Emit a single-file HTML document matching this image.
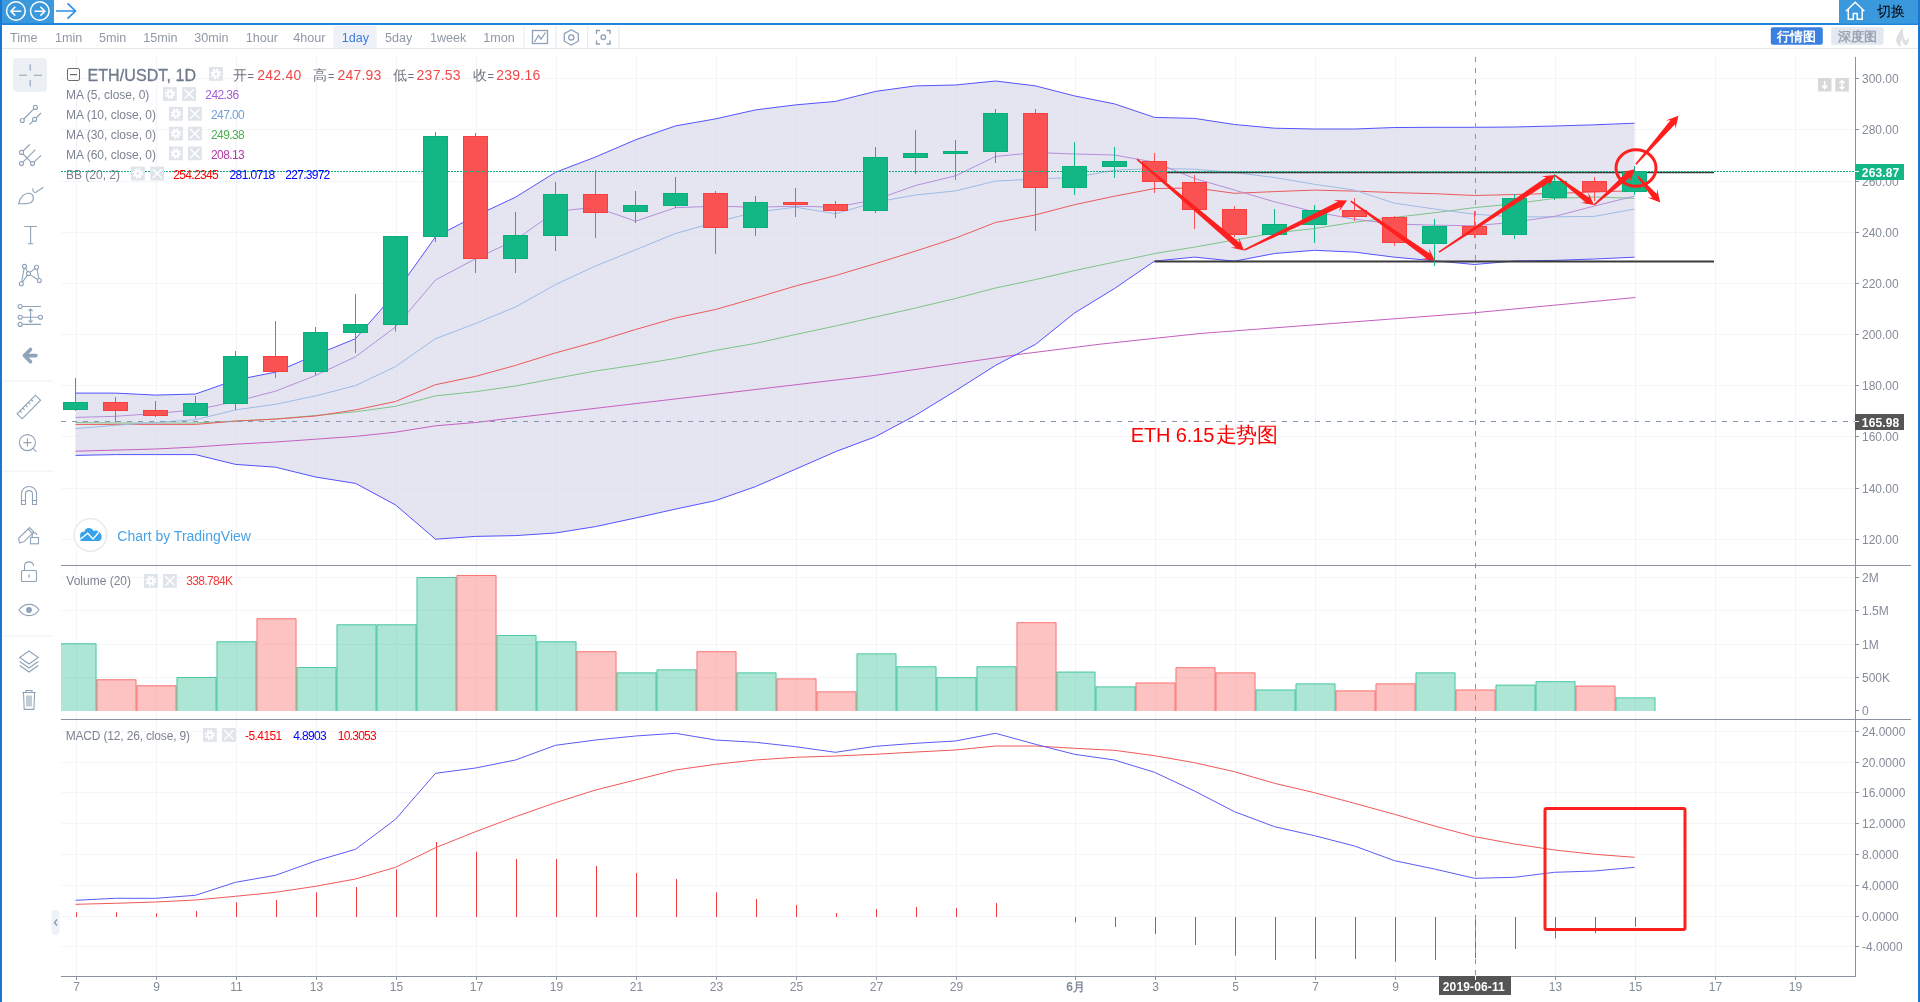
<!DOCTYPE html>
<html><head><meta charset="utf-8"><style>
html,body{margin:0;padding:0;width:1920px;height:1002px;overflow:hidden;background:#fff;font-family:"Liberation Sans",sans-serif;}
svg text{font-family:"Liberation Sans",sans-serif;}
.abs{position:absolute}
</style></head><body>
<svg class="abs" style="left:0;top:0;will-change:transform" width="1920" height="1002" viewBox="0 0 1920 1002">
<rect width="1920" height="1002" fill="#fff"/>
<g id="chart">
<line x1="76.5" y1="57" x2="76.5" y2="976" stroke="#f4f5f8" stroke-width="1"/>
<line x1="156.5" y1="57" x2="156.5" y2="976" stroke="#f4f5f8" stroke-width="1"/>
<line x1="236.5" y1="57" x2="236.5" y2="976" stroke="#f4f5f8" stroke-width="1"/>
<line x1="316.5" y1="57" x2="316.5" y2="976" stroke="#f4f5f8" stroke-width="1"/>
<line x1="396.5" y1="57" x2="396.5" y2="976" stroke="#f4f5f8" stroke-width="1"/>
<line x1="476.5" y1="57" x2="476.5" y2="976" stroke="#f4f5f8" stroke-width="1"/>
<line x1="556.5" y1="57" x2="556.5" y2="976" stroke="#f4f5f8" stroke-width="1"/>
<line x1="636.5" y1="57" x2="636.5" y2="976" stroke="#f4f5f8" stroke-width="1"/>
<line x1="716.5" y1="57" x2="716.5" y2="976" stroke="#f4f5f8" stroke-width="1"/>
<line x1="796.5" y1="57" x2="796.5" y2="976" stroke="#f4f5f8" stroke-width="1"/>
<line x1="876.5" y1="57" x2="876.5" y2="976" stroke="#f4f5f8" stroke-width="1"/>
<line x1="956.5" y1="57" x2="956.5" y2="976" stroke="#f4f5f8" stroke-width="1"/>
<line x1="1075.5" y1="57" x2="1075.5" y2="976" stroke="#f4f5f8" stroke-width="1"/>
<line x1="1155.5" y1="57" x2="1155.5" y2="976" stroke="#f4f5f8" stroke-width="1"/>
<line x1="1235.5" y1="57" x2="1235.5" y2="976" stroke="#f4f5f8" stroke-width="1"/>
<line x1="1315.5" y1="57" x2="1315.5" y2="976" stroke="#f4f5f8" stroke-width="1"/>
<line x1="1395.5" y1="57" x2="1395.5" y2="976" stroke="#f4f5f8" stroke-width="1"/>
<line x1="1475.5" y1="57" x2="1475.5" y2="976" stroke="#f4f5f8" stroke-width="1"/>
<line x1="1555.5" y1="57" x2="1555.5" y2="976" stroke="#f4f5f8" stroke-width="1"/>
<line x1="1635.5" y1="57" x2="1635.5" y2="976" stroke="#f4f5f8" stroke-width="1"/>
<line x1="1715.5" y1="57" x2="1715.5" y2="976" stroke="#f4f5f8" stroke-width="1"/>
<line x1="1795.5" y1="57" x2="1795.5" y2="976" stroke="#f4f5f8" stroke-width="1"/>
<line x1="61" y1="78.5" x2="1855" y2="78.5" stroke="#f4f5f8"/>
<line x1="61" y1="129.5" x2="1855" y2="129.5" stroke="#f4f5f8"/>
<line x1="61" y1="181.5" x2="1855" y2="181.5" stroke="#f4f5f8"/>
<line x1="61" y1="232.5" x2="1855" y2="232.5" stroke="#f4f5f8"/>
<line x1="61" y1="283.5" x2="1855" y2="283.5" stroke="#f4f5f8"/>
<line x1="61" y1="334.5" x2="1855" y2="334.5" stroke="#f4f5f8"/>
<line x1="61" y1="385.5" x2="1855" y2="385.5" stroke="#f4f5f8"/>
<line x1="61" y1="436.5" x2="1855" y2="436.5" stroke="#f4f5f8"/>
<line x1="61" y1="488.5" x2="1855" y2="488.5" stroke="#f4f5f8"/>
<line x1="61" y1="539.5" x2="1855" y2="539.5" stroke="#f4f5f8"/>
<line x1="61" y1="577.5" x2="1855" y2="577.5" stroke="#f4f5f8"/>
<line x1="61" y1="610.5" x2="1855" y2="610.5" stroke="#f4f5f8"/>
<line x1="61" y1="644.5" x2="1855" y2="644.5" stroke="#f4f5f8"/>
<line x1="61" y1="677.5" x2="1855" y2="677.5" stroke="#f4f5f8"/>
<line x1="61" y1="731.5" x2="1855" y2="731.5" stroke="#f4f5f8"/>
<line x1="61" y1="762.5" x2="1855" y2="762.5" stroke="#f4f5f8"/>
<line x1="61" y1="792.5" x2="1855" y2="792.5" stroke="#f4f5f8"/>
<line x1="61" y1="823.5" x2="1855" y2="823.5" stroke="#f4f5f8"/>
<line x1="61" y1="854.5" x2="1855" y2="854.5" stroke="#f4f5f8"/>
<line x1="61" y1="885.5" x2="1855" y2="885.5" stroke="#f4f5f8"/>
<line x1="61" y1="916.5" x2="1855" y2="916.5" stroke="#f4f5f8"/>
<line x1="61" y1="946.5" x2="1855" y2="946.5" stroke="#f4f5f8"/>
<defs><clipPath id="bbclip"><polygon points="75.5,393.1 115.5,393.1 155.5,395.1 195.5,394.0 235.5,380.0 275.5,372.2 315.5,355.0 355.5,338.7 395.5,293.0 435.5,236.8 475.5,216.0 515.5,197.2 555.5,172.3 595.5,157.0 635.5,139.8 675.5,125.9 715.5,118.9 755.5,109.9 795.5,104.9 835.5,101.4 875.5,91.4 915.5,85.9 955.5,85.0 995.5,81.0 1035.5,85.9 1074.5,95.9 1114.5,103.9 1154.5,117.4 1194.5,118.4 1234.5,124.5 1274.5,128.2 1314.5,129.0 1354.5,129.0 1394.5,127.5 1434.5,127.3 1474.5,127.3 1514.5,127.0 1554.5,126.0 1594.5,124.8 1634.5,123.2 1634.5,257.2 1594.5,259.0 1554.5,260.4 1514.5,261.0 1474.5,264.5 1434.5,260.8 1394.5,257.2 1354.5,252.1 1314.5,250.3 1274.5,253.5 1234.5,261.2 1194.5,257.1 1154.5,261.1 1114.5,288.5 1074.5,313.0 1035.5,344.4 995.5,365.4 955.5,390.8 915.5,415.3 875.5,436.7 835.5,451.7 795.5,469.2 755.5,486.6 715.5,500.6 675.5,509.1 635.5,518.0 595.5,526.6 555.5,533.0 515.5,535.6 475.5,536.4 435.5,539.2 395.5,504.9 355.5,483.4 315.5,477.0 275.5,467.2 235.5,464.4 195.5,454.6 155.5,454.6 115.5,454.6 75.5,455.4"/></clipPath></defs>
<polygon points="75.5,393.1 115.5,393.1 155.5,395.1 195.5,394.0 235.5,380.0 275.5,372.2 315.5,355.0 355.5,338.7 395.5,293.0 435.5,236.8 475.5,216.0 515.5,197.2 555.5,172.3 595.5,157.0 635.5,139.8 675.5,125.9 715.5,118.9 755.5,109.9 795.5,104.9 835.5,101.4 875.5,91.4 915.5,85.9 955.5,85.0 995.5,81.0 1035.5,85.9 1074.5,95.9 1114.5,103.9 1154.5,117.4 1194.5,118.4 1234.5,124.5 1274.5,128.2 1314.5,129.0 1354.5,129.0 1394.5,127.5 1434.5,127.3 1474.5,127.3 1514.5,127.0 1554.5,126.0 1594.5,124.8 1634.5,123.2 1634.5,257.2 1594.5,259.0 1554.5,260.4 1514.5,261.0 1474.5,264.5 1434.5,260.8 1394.5,257.2 1354.5,252.1 1314.5,250.3 1274.5,253.5 1234.5,261.2 1194.5,257.1 1154.5,261.1 1114.5,288.5 1074.5,313.0 1035.5,344.4 995.5,365.4 955.5,390.8 915.5,415.3 875.5,436.7 835.5,451.7 795.5,469.2 755.5,486.6 715.5,500.6 675.5,509.1 635.5,518.0 595.5,526.6 555.5,533.0 515.5,535.6 475.5,536.4 435.5,539.2 395.5,504.9 355.5,483.4 315.5,477.0 275.5,467.2 235.5,464.4 195.5,454.6 155.5,454.6 115.5,454.6 75.5,455.4" fill="#e5e5f2"/>
<path d="M76.5 57V565 M156.5 57V565 M236.5 57V565 M316.5 57V565 M396.5 57V565 M476.5 57V565 M556.5 57V565 M636.5 57V565 M716.5 57V565 M796.5 57V565 M876.5 57V565 M956.5 57V565 M1075.5 57V565 M1155.5 57V565 M1235.5 57V565 M1315.5 57V565 M1395.5 57V565 M1475.5 57V565 M1555.5 57V565 M1635.5 57V565 M1715.5 57V565 M1795.5 57V565 M61 78.5H1855 M61 129.5H1855 M61 181.5H1855 M61 232.5H1855 M61 283.5H1855 M61 334.5H1855 M61 385.5H1855 M61 436.5H1855 M61 488.5H1855 M61 539.5H1855" stroke="#e1e2ef" stroke-width="1" fill="none" clip-path="url(#bbclip)"/>

<polyline points="75.5,451.2 155.5,449 195.5,447 235.5,444.2 275.5,442 315.5,439.2 355.5,436.4 395.5,432.2 435.5,425.8 475.5,422.5 500,419.5 715,394.3 874.8,375.4 1019,354.4 1100,344.2 1200,333.5 1475,312.7 1635.5,297.5" fill="none" stroke="#c55fc0" stroke-width="1"/>
<polyline points="75.5,422.5 115.5,423.0 155.5,423.0 195.5,423.0 235.5,421.1 275.5,419.0 315.5,415.5 355.5,411.8 395.5,406.3 435.5,395.9 475.5,391.7 515.5,386.0 555.5,378.4 595.5,371.0 635.5,365.0 675.5,358.4 715.5,350.4 755.5,343.4 795.5,334.5 835.5,326.0 875.5,317.0 915.5,308.0 955.5,298.5 995.5,288.0 1035.5,279.6 1074.5,270.6 1114.5,262.1 1154.5,253.6 1194.5,247.1 1234.5,240.0 1274.5,233.0 1314.5,228.5 1354.5,222.2 1394.5,217.4 1434.5,212.7 1474.5,207.6 1514.5,203.8 1554.5,198.4 1594.5,197.0 1634.5,198.3" fill="none" stroke="#7fc487" stroke-width="1"/>
<polyline points="75.5,424.4 115.5,424.4 155.5,424.4 195.5,424.4 235.5,421.1 275.5,419.1 315.5,416.0 355.5,409.9 395.5,401.5 435.5,384.7 475.5,376.4 515.5,365.4 555.5,352.9 595.5,341.9 635.5,329.5 675.5,318.0 715.5,309.5 755.5,298.0 795.5,286.0 835.5,275.6 875.5,263.6 915.5,251.1 955.5,238.1 995.5,222.5 1035.5,214.9 1074.5,204.7 1114.5,196.2 1154.5,188.6 1194.5,187.9 1234.5,193.3 1274.5,191.6 1314.5,190.1 1354.5,191.1 1394.5,192.6 1434.5,193.7 1474.5,195.5 1514.5,194.5 1554.5,193.4 1594.5,192.0 1634.5,190.7" fill="none" stroke="#ec5a5a" stroke-width="1"/>
<polyline points="75.5,428.6 115.5,425.3 155.5,422.5 195.5,419.7 235.5,409.9 275.5,404.3 315.5,395.9 355.5,385.6 395.5,366.6 435.5,338.7 475.5,323.5 515.5,307.0 555.5,284.6 595.5,266.0 635.5,249.8 675.5,233.5 715.5,222.2 755.5,212.2 795.5,207.2 835.5,213.7 875.5,202.2 915.5,195.0 955.5,190.9 995.5,181.1 1035.5,179.0 1074.5,177.5 1114.5,170.2 1154.5,168.5 1194.5,169.2 1234.5,172.5 1274.5,177.5 1314.5,184.3 1354.5,190.1 1394.5,203.2 1434.5,209.0 1474.5,214.2 1514.5,216.9 1554.5,216.8 1594.5,216.4 1634.5,209.0" fill="none" stroke="#9ebbe2" stroke-width="1"/>
<polyline points="75.5,417.4 115.5,416.3 155.5,413.5 195.5,409.9 235.5,401.5 275.5,391.2 315.5,375.5 355.5,356.8 395.5,327.0 435.5,280.0 475.5,258.8 515.5,240.0 555.5,211.5 595.5,207.2 635.5,221.2 675.5,207.7 715.5,206.2 755.5,207.2 795.5,206.2 835.5,207.2 875.5,199.7 915.5,185.5 955.5,175.8 995.5,156.5 1035.5,152.5 1074.5,154.0 1114.5,155.0 1154.5,162.2 1194.5,178.5 1234.5,190.0 1274.5,201.8 1314.5,211.8 1354.5,219.2 1394.5,224.1 1434.5,225.1 1474.5,225.8 1514.5,222.1 1554.5,216.4 1594.5,206.0 1634.5,196.1" fill="none" stroke="#b58fd8" stroke-width="1"/>
<polyline points="75.5,393.1 115.5,393.1 155.5,395.1 195.5,394.0 235.5,380.0 275.5,372.2 315.5,355.0 355.5,338.7 395.5,293.0 435.5,236.8 475.5,216.0 515.5,197.2 555.5,172.3 595.5,157.0 635.5,139.8 675.5,125.9 715.5,118.9 755.5,109.9 795.5,104.9 835.5,101.4 875.5,91.4 915.5,85.9 955.5,85.0 995.5,81.0 1035.5,85.9 1074.5,95.9 1114.5,103.9 1154.5,117.4 1194.5,118.4 1234.5,124.5 1274.5,128.2 1314.5,129.0 1354.5,129.0 1394.5,127.5 1434.5,127.3 1474.5,127.3 1514.5,127.0 1554.5,126.0 1594.5,124.8 1634.5,123.2" fill="none" stroke="#5353ff" stroke-width="1"/>
<polyline points="75.5,455.4 115.5,454.6 155.5,454.6 195.5,454.6 235.5,464.4 275.5,467.2 315.5,477.0 355.5,483.4 395.5,504.9 435.5,539.2 475.5,536.4 515.5,535.6 555.5,533.0 595.5,526.6 635.5,518.0 675.5,509.1 715.5,500.6 755.5,486.6 795.5,469.2 835.5,451.7 875.5,436.7 915.5,415.3 955.5,390.8 995.5,365.4 1035.5,344.4 1074.5,313.0 1114.5,288.5 1154.5,261.1 1194.5,257.1 1234.5,261.2 1274.5,253.5 1314.5,250.3 1354.5,252.1 1394.5,257.2 1434.5,260.8 1474.5,264.5 1514.5,261.0 1554.5,260.4 1594.5,259.0 1634.5,257.2" fill="none" stroke="#5353ff" stroke-width="1"/>
<line x1="1154.5" y1="172.5" x2="1714" y2="172.5" stroke="#3b3b3b" stroke-width="1.6"/>
<line x1="1154.5" y1="261.5" x2="1714" y2="261.5" stroke="#3b3b3b" stroke-width="1.8"/>
<rect x="75.0" y="378.0" width="1" height="33.0" fill="#13b786"/>
<rect x="63.5" y="402.5" width="24" height="7" fill="#13b786" stroke="#05b079" stroke-width="1"/>
<rect x="115.0" y="397.0" width="1" height="25.5" fill="#fa5252"/>
<rect x="103.5" y="402.5" width="24" height="8" fill="#fa5252" stroke="#f93e3e" stroke-width="1"/>
<rect x="155.0" y="401.0" width="1" height="16.0" fill="#fa5252"/>
<rect x="143.5" y="410.5" width="24" height="5" fill="#fa5252" stroke="#f93e3e" stroke-width="1"/>
<rect x="195.0" y="396.0" width="1" height="22.5" fill="#13b786"/>
<rect x="183.5" y="403.5" width="24" height="12" fill="#13b786" stroke="#05b079" stroke-width="1"/>
<rect x="235.0" y="351.0" width="1" height="59.0" fill="#13b786"/>
<rect x="223.5" y="356.5" width="24" height="47" fill="#13b786" stroke="#05b079" stroke-width="1"/>
<rect x="275.0" y="321.0" width="1" height="57.0" fill="#fa5252"/>
<rect x="263.5" y="356.5" width="24" height="15" fill="#fa5252" stroke="#f93e3e" stroke-width="1"/>
<rect x="315.0" y="327.0" width="1" height="48.0" fill="#13b786"/>
<rect x="303.5" y="332.5" width="24" height="39" fill="#13b786" stroke="#05b079" stroke-width="1"/>
<rect x="355.0" y="294.0" width="1" height="59.0" fill="#13b786"/>
<rect x="343.5" y="324.5" width="24" height="8" fill="#13b786" stroke="#05b079" stroke-width="1"/>
<rect x="395.0" y="236.0" width="1" height="95.5" fill="#13b786"/>
<rect x="383.5" y="236.5" width="24" height="88" fill="#13b786" stroke="#05b079" stroke-width="1"/>
<rect x="435.0" y="132.0" width="1" height="110.0" fill="#13b786"/>
<rect x="423.5" y="136.5" width="24" height="100" fill="#13b786" stroke="#05b079" stroke-width="1"/>
<rect x="475.0" y="133.0" width="1" height="140.0" fill="#fa5252"/>
<rect x="463.5" y="136.5" width="24" height="122" fill="#fa5252" stroke="#f93e3e" stroke-width="1"/>
<rect x="515.0" y="212.0" width="1" height="61.0" fill="#13b786"/>
<rect x="503.5" y="235.5" width="24" height="23" fill="#13b786" stroke="#05b079" stroke-width="1"/>
<rect x="555.0" y="182.0" width="1" height="69.0" fill="#13b786"/>
<rect x="543.5" y="194.5" width="24" height="41" fill="#13b786" stroke="#05b079" stroke-width="1"/>
<rect x="595.0" y="170.0" width="1" height="68.0" fill="#fa5252"/>
<rect x="583.5" y="194.5" width="24" height="18" fill="#fa5252" stroke="#f93e3e" stroke-width="1"/>
<rect x="635.0" y="191.0" width="1" height="32.0" fill="#13b786"/>
<rect x="623.5" y="205.5" width="24" height="6" fill="#13b786" stroke="#05b079" stroke-width="1"/>
<rect x="675.0" y="177.0" width="1" height="31.0" fill="#13b786"/>
<rect x="663.5" y="193.5" width="24" height="12" fill="#13b786" stroke="#05b079" stroke-width="1"/>
<rect x="715.0" y="191.0" width="1" height="63.0" fill="#fa5252"/>
<rect x="703.5" y="193.5" width="24" height="34" fill="#fa5252" stroke="#f93e3e" stroke-width="1"/>
<rect x="755.0" y="196.0" width="1" height="40.0" fill="#13b786"/>
<rect x="743.5" y="202.5" width="24" height="25" fill="#13b786" stroke="#05b079" stroke-width="1"/>
<rect x="795.0" y="188.0" width="1" height="29.0" fill="#fa5252"/>
<rect x="783.5" y="202.5" width="24" height="2" fill="#fa5252" stroke="#f93e3e" stroke-width="1"/>
<rect x="835.0" y="201.0" width="1" height="17.0" fill="#fa5252"/>
<rect x="823.5" y="204.5" width="24" height="6" fill="#fa5252" stroke="#f93e3e" stroke-width="1"/>
<rect x="875.0" y="147.0" width="1" height="66.0" fill="#13b786"/>
<rect x="863.5" y="157.5" width="24" height="53" fill="#13b786" stroke="#05b079" stroke-width="1"/>
<rect x="915.0" y="130.0" width="1" height="44.0" fill="#13b786"/>
<rect x="903.5" y="153.5" width="24" height="4" fill="#13b786" stroke="#05b079" stroke-width="1"/>
<rect x="955.0" y="140.0" width="1" height="40.0" fill="#13b786"/>
<rect x="943.5" y="151.5" width="24" height="2" fill="#13b786" stroke="#05b079" stroke-width="1"/>
<rect x="995.0" y="109.0" width="1" height="54.0" fill="#13b786"/>
<rect x="983.5" y="113.5" width="24" height="38" fill="#13b786" stroke="#05b079" stroke-width="1"/>
<rect x="1035.0" y="109.0" width="1" height="122.0" fill="#fa5252"/>
<rect x="1023.5" y="113.5" width="24" height="74" fill="#fa5252" stroke="#f93e3e" stroke-width="1"/>
<rect x="1074.0" y="142.0" width="1" height="53.0" fill="#13b786"/>
<rect x="1062.5" y="166.5" width="24" height="21" fill="#13b786" stroke="#05b079" stroke-width="1"/>
<rect x="1114.0" y="147.0" width="1" height="31.0" fill="#13b786"/>
<rect x="1102.5" y="161.5" width="24" height="5" fill="#13b786" stroke="#05b079" stroke-width="1"/>
<rect x="1154.0" y="153.0" width="1" height="40.0" fill="#fa5252"/>
<rect x="1142.5" y="161.5" width="24" height="20" fill="#fa5252" stroke="#f93e3e" stroke-width="1"/>
<rect x="1194.0" y="175.0" width="1" height="54.0" fill="#fa5252"/>
<rect x="1182.5" y="182.5" width="24" height="27" fill="#fa5252" stroke="#f93e3e" stroke-width="1"/>
<rect x="1234.0" y="206.0" width="1" height="31.0" fill="#fa5252"/>
<rect x="1222.5" y="209.5" width="24" height="25" fill="#fa5252" stroke="#f93e3e" stroke-width="1"/>
<rect x="1274.0" y="209.0" width="1" height="26.0" fill="#13b786"/>
<rect x="1262.5" y="224.5" width="24" height="10" fill="#13b786" stroke="#05b079" stroke-width="1"/>
<rect x="1314.0" y="205.0" width="1" height="38.0" fill="#13b786"/>
<rect x="1302.5" y="210.5" width="24" height="14" fill="#13b786" stroke="#05b079" stroke-width="1"/>
<rect x="1354.0" y="198.0" width="1" height="23.0" fill="#fa5252"/>
<rect x="1342.5" y="210.5" width="24" height="6" fill="#fa5252" stroke="#f93e3e" stroke-width="1"/>
<rect x="1394.0" y="216.0" width="1" height="30.0" fill="#fa5252"/>
<rect x="1382.5" y="217.5" width="24" height="25" fill="#fa5252" stroke="#f93e3e" stroke-width="1"/>
<rect x="1434.0" y="219.0" width="1" height="47.0" fill="#13b786"/>
<rect x="1422.5" y="226.5" width="24" height="17" fill="#13b786" stroke="#05b079" stroke-width="1"/>
<rect x="1474.0" y="211.0" width="1" height="27.0" fill="#fa5252"/>
<rect x="1462.5" y="226.5" width="24" height="8" fill="#fa5252" stroke="#f93e3e" stroke-width="1"/>
<rect x="1514.0" y="194.0" width="1" height="45.0" fill="#13b786"/>
<rect x="1502.5" y="198.5" width="24" height="36" fill="#13b786" stroke="#05b079" stroke-width="1"/>
<rect x="1554.0" y="174.0" width="1" height="26.0" fill="#13b786"/>
<rect x="1542.5" y="181.5" width="24" height="16" fill="#13b786" stroke="#05b079" stroke-width="1"/>
<rect x="1594.0" y="177.0" width="1" height="24.0" fill="#fa5252"/>
<rect x="1582.5" y="181.5" width="24" height="10" fill="#fa5252" stroke="#f93e3e" stroke-width="1"/>
<rect x="1634.0" y="166.0" width="1" height="29.0" fill="#13b786"/>
<rect x="1622.5" y="171.5" width="24" height="20" fill="#13b786" stroke="#05b079" stroke-width="1"/>
<line x1="61" y1="171.5" x2="1855" y2="171.5" stroke="#10b07f" stroke-width="1" stroke-dasharray="2,1"/>
<polygon fill="#ff1f1f" points="1136.4,159.8 1235.5,247.2 1230.7,247.6 1244.0,250.5 1239.0,237.8 1239.4,242.6 1137.4,158.6"/>
<polygon fill="#ff1f1f" points="1244.7,250.7 1340.6,207.0 1339.1,211.5 1347.1,200.5 1333.5,199.9 1338.0,201.5 1244.1,249.3"/>
<polygon fill="#ff1f1f" points="1350.3,201.7 1426.2,258.3 1421.5,259.1 1435.0,260.8 1428.9,248.6 1429.7,253.4 1351.1,200.5"/>
<polygon fill="#ff1f1f" points="1439.4,252.7 1549.5,182.3 1548.5,187.0 1555.0,175.0 1541.5,176.3 1546.1,177.3 1438.6,251.5"/>
<polygon fill="#ff1f1f" points="1554.5,176.0 1585.3,202.2 1580.6,202.8 1594.0,205.0 1588.3,192.6 1588.9,197.4 1555.5,174.8"/>
<polygon fill="#ff1f1f" points="1594.5,205.6 1630.3,177.2 1630.0,181.9 1634.8,169.2 1621.6,172.3 1626.3,172.6 1593.5,204.4"/>
<polygon fill="#ff1f1f" points="1636.5,164.8 1675.1,124.3 1675.4,129.0 1678.5,115.8 1665.8,120.6 1670.5,120.3 1635.3,163.8"/>
<polygon fill="#ff1f1f" points="1637.1,176.8 1652.3,197.8 1647.5,197.5 1660.2,202.4 1657.2,189.1 1656.8,193.9 1638.3,175.8"/>
<ellipse cx="1636" cy="168" rx="20" ry="18.3" fill="none" stroke="#ff1f1f" stroke-width="3"/>
<text x="1130.8" y="441.6" font-size="20" fill="#ff0000" textLength="83.5">ETH 6.15</text>
<text x="1216" y="442" font-size="21" fill="#ff0000" textLength="61.5">走势图</text>
<rect x="61.0" y="643.2" width="35.5" height="67.8" fill="rgba(19,183,134,0.35)"/>
<path d="M61.0 643.8H96.0V711" fill="none" stroke="rgba(19,183,134,0.6)" stroke-width="1"/>
<rect x="96.5" y="679.2" width="40.0" height="31.8" fill="rgba(250,82,82,0.35)"/>
<path d="M97.0 711V679.8H136.0V711" fill="none" stroke="rgba(248,70,70,0.6)" stroke-width="1"/>
<rect x="136.5" y="685.2" width="40.0" height="25.8" fill="rgba(250,82,82,0.35)"/>
<path d="M137.0 711V685.8H176.0V711" fill="none" stroke="rgba(248,70,70,0.6)" stroke-width="1"/>
<rect x="176.5" y="677.0" width="40.0" height="34.0" fill="rgba(19,183,134,0.35)"/>
<path d="M177.0 711V677.5H216.0V711" fill="none" stroke="rgba(19,183,134,0.6)" stroke-width="1"/>
<rect x="216.5" y="641.2" width="40.0" height="69.8" fill="rgba(19,183,134,0.35)"/>
<path d="M217.0 711V641.8H256.0V711" fill="none" stroke="rgba(19,183,134,0.6)" stroke-width="1"/>
<rect x="256.5" y="618.2" width="40.0" height="92.8" fill="rgba(250,82,82,0.35)"/>
<path d="M257.0 711V618.8H296.0V711" fill="none" stroke="rgba(248,70,70,0.6)" stroke-width="1"/>
<rect x="296.5" y="667.0" width="40.0" height="44.0" fill="rgba(19,183,134,0.35)"/>
<path d="M297.0 711V667.5H336.0V711" fill="none" stroke="rgba(19,183,134,0.6)" stroke-width="1"/>
<rect x="336.5" y="624.2" width="40.0" height="86.8" fill="rgba(19,183,134,0.35)"/>
<path d="M337.0 711V624.8H376.0V711" fill="none" stroke="rgba(19,183,134,0.6)" stroke-width="1"/>
<rect x="376.5" y="624.2" width="40.0" height="86.8" fill="rgba(19,183,134,0.35)"/>
<path d="M377.0 711V624.8H416.0V711" fill="none" stroke="rgba(19,183,134,0.6)" stroke-width="1"/>
<rect x="416.5" y="577.0" width="40.0" height="134.0" fill="rgba(19,183,134,0.35)"/>
<path d="M417.0 711V577.5H456.0V711" fill="none" stroke="rgba(19,183,134,0.6)" stroke-width="1"/>
<rect x="456.5" y="575.0" width="40.0" height="136.0" fill="rgba(250,82,82,0.35)"/>
<path d="M457.0 711V575.5H496.0V711" fill="none" stroke="rgba(248,70,70,0.6)" stroke-width="1"/>
<rect x="496.5" y="635.0" width="40.0" height="76.0" fill="rgba(19,183,134,0.35)"/>
<path d="M497.0 711V635.5H536.0V711" fill="none" stroke="rgba(19,183,134,0.6)" stroke-width="1"/>
<rect x="536.5" y="641.3" width="40.0" height="69.7" fill="rgba(19,183,134,0.35)"/>
<path d="M537.0 711V641.8H576.0V711" fill="none" stroke="rgba(19,183,134,0.6)" stroke-width="1"/>
<rect x="576.5" y="651.2" width="40.0" height="59.8" fill="rgba(250,82,82,0.35)"/>
<path d="M577.0 711V651.7H616.0V711" fill="none" stroke="rgba(248,70,70,0.6)" stroke-width="1"/>
<rect x="616.5" y="672.4" width="40.0" height="38.6" fill="rgba(19,183,134,0.35)"/>
<path d="M617.0 711V672.9H656.0V711" fill="none" stroke="rgba(19,183,134,0.6)" stroke-width="1"/>
<rect x="656.5" y="669.4" width="40.0" height="41.6" fill="rgba(19,183,134,0.35)"/>
<path d="M657.0 711V669.9H696.0V711" fill="none" stroke="rgba(19,183,134,0.6)" stroke-width="1"/>
<rect x="696.5" y="651.2" width="40.0" height="59.8" fill="rgba(250,82,82,0.35)"/>
<path d="M697.0 711V651.7H736.0V711" fill="none" stroke="rgba(248,70,70,0.6)" stroke-width="1"/>
<rect x="736.5" y="672.4" width="40.0" height="38.6" fill="rgba(19,183,134,0.35)"/>
<path d="M737.0 711V672.9H776.0V711" fill="none" stroke="rgba(19,183,134,0.6)" stroke-width="1"/>
<rect x="776.5" y="678.4" width="40.0" height="32.6" fill="rgba(250,82,82,0.35)"/>
<path d="M777.0 711V678.9H816.0V711" fill="none" stroke="rgba(248,70,70,0.6)" stroke-width="1"/>
<rect x="816.5" y="691.4" width="40.0" height="19.6" fill="rgba(250,82,82,0.35)"/>
<path d="M817.0 711V691.9H856.0V711" fill="none" stroke="rgba(248,70,70,0.6)" stroke-width="1"/>
<rect x="856.5" y="653.4" width="40.0" height="57.6" fill="rgba(19,183,134,0.35)"/>
<path d="M857.0 711V653.9H896.0V711" fill="none" stroke="rgba(19,183,134,0.6)" stroke-width="1"/>
<rect x="896.5" y="666.3" width="40.0" height="44.7" fill="rgba(19,183,134,0.35)"/>
<path d="M897.0 711V666.8H936.0V711" fill="none" stroke="rgba(19,183,134,0.6)" stroke-width="1"/>
<rect x="936.5" y="677.2" width="40.0" height="33.8" fill="rgba(19,183,134,0.35)"/>
<path d="M937.0 711V677.7H976.0V711" fill="none" stroke="rgba(19,183,134,0.6)" stroke-width="1"/>
<rect x="976.5" y="666.3" width="40.0" height="44.7" fill="rgba(19,183,134,0.35)"/>
<path d="M977.0 711V666.8H1016.0V711" fill="none" stroke="rgba(19,183,134,0.6)" stroke-width="1"/>
<rect x="1016.5" y="622.2" width="40.0" height="88.8" fill="rgba(250,82,82,0.35)"/>
<path d="M1017.0 711V622.7H1056.0V711" fill="none" stroke="rgba(248,70,70,0.6)" stroke-width="1"/>
<rect x="1056.5" y="671.6" width="39.0" height="39.4" fill="rgba(19,183,134,0.35)"/>
<path d="M1057.0 711V672.1H1095.0V711" fill="none" stroke="rgba(19,183,134,0.6)" stroke-width="1"/>
<rect x="1095.5" y="686.4" width="40.0" height="24.6" fill="rgba(19,183,134,0.35)"/>
<path d="M1096.0 711V686.9H1135.0V711" fill="none" stroke="rgba(19,183,134,0.6)" stroke-width="1"/>
<rect x="1135.5" y="682.5" width="40.0" height="28.5" fill="rgba(250,82,82,0.35)"/>
<path d="M1136.0 711V683.0H1175.0V711" fill="none" stroke="rgba(248,70,70,0.6)" stroke-width="1"/>
<rect x="1175.5" y="667.2" width="40.0" height="43.8" fill="rgba(250,82,82,0.35)"/>
<path d="M1176.0 711V667.7H1215.0V711" fill="none" stroke="rgba(248,70,70,0.6)" stroke-width="1"/>
<rect x="1215.5" y="672.4" width="40.0" height="38.6" fill="rgba(250,82,82,0.35)"/>
<path d="M1216.0 711V672.9H1255.0V711" fill="none" stroke="rgba(248,70,70,0.6)" stroke-width="1"/>
<rect x="1255.5" y="689.5" width="40.0" height="21.5" fill="rgba(19,183,134,0.35)"/>
<path d="M1256.0 711V690.0H1295.0V711" fill="none" stroke="rgba(19,183,134,0.6)" stroke-width="1"/>
<rect x="1295.5" y="683.4" width="40.0" height="27.6" fill="rgba(19,183,134,0.35)"/>
<path d="M1296.0 711V683.9H1335.0V711" fill="none" stroke="rgba(19,183,134,0.6)" stroke-width="1"/>
<rect x="1335.5" y="690.4" width="40.0" height="20.6" fill="rgba(250,82,82,0.35)"/>
<path d="M1336.0 711V690.9H1375.0V711" fill="none" stroke="rgba(248,70,70,0.6)" stroke-width="1"/>
<rect x="1375.5" y="683.4" width="40.0" height="27.6" fill="rgba(250,82,82,0.35)"/>
<path d="M1376.0 711V683.9H1415.0V711" fill="none" stroke="rgba(248,70,70,0.6)" stroke-width="1"/>
<rect x="1415.5" y="672.4" width="40.0" height="38.6" fill="rgba(19,183,134,0.35)"/>
<path d="M1416.0 711V672.9H1455.0V711" fill="none" stroke="rgba(19,183,134,0.6)" stroke-width="1"/>
<rect x="1455.5" y="689.5" width="40.0" height="21.5" fill="rgba(250,82,82,0.35)"/>
<path d="M1456.0 711V690.0H1495.0V711" fill="none" stroke="rgba(248,70,70,0.6)" stroke-width="1"/>
<rect x="1495.5" y="684.7" width="40.0" height="26.3" fill="rgba(19,183,134,0.35)"/>
<path d="M1496.0 711V685.2H1535.0V711" fill="none" stroke="rgba(19,183,134,0.6)" stroke-width="1"/>
<rect x="1535.5" y="681.2" width="40.0" height="29.8" fill="rgba(19,183,134,0.35)"/>
<path d="M1536.0 711V681.7H1575.0V711" fill="none" stroke="rgba(19,183,134,0.6)" stroke-width="1"/>
<rect x="1575.5" y="685.6" width="40.0" height="25.4" fill="rgba(250,82,82,0.35)"/>
<path d="M1576.0 711V686.1H1615.0V711" fill="none" stroke="rgba(248,70,70,0.6)" stroke-width="1"/>
<rect x="1615.5" y="697.4" width="40.0" height="13.6" fill="rgba(19,183,134,0.35)"/>
<path d="M1616.0 711V697.9H1655.0V711" fill="none" stroke="rgba(19,183,134,0.6)" stroke-width="1"/>
<rect x="76.0" y="912.3" width="1" height="4.7" fill="#f03c3c"/>
<rect x="116.0" y="912.3" width="1" height="4.7" fill="#f03c3c"/>
<rect x="156.0" y="913.3" width="1" height="3.7" fill="#f03c3c"/>
<rect x="196.0" y="911.0" width="1" height="6.0" fill="#f03c3c"/>
<rect x="236.0" y="902.3" width="1" height="14.7" fill="#f03c3c"/>
<rect x="276.0" y="900.0" width="1" height="17.0" fill="#f03c3c"/>
<rect x="316.0" y="892.3" width="1" height="24.7" fill="#f03c3c"/>
<rect x="356.0" y="887.0" width="1" height="30.0" fill="#f03c3c"/>
<rect x="396.0" y="869.3" width="1" height="47.7" fill="#f03c3c"/>
<rect x="436.0" y="842.0" width="1" height="75.0" fill="#f03c3c"/>
<rect x="476.0" y="851.7" width="1" height="65.3" fill="#f03c3c"/>
<rect x="516.0" y="859.0" width="1" height="58.0" fill="#f03c3c"/>
<rect x="556.0" y="859.0" width="1" height="58.0" fill="#f03c3c"/>
<rect x="596.0" y="866.0" width="1" height="51.0" fill="#f03c3c"/>
<rect x="636.0" y="873.0" width="1" height="44.0" fill="#f03c3c"/>
<rect x="676.0" y="879.0" width="1" height="38.0" fill="#f03c3c"/>
<rect x="716.0" y="892.3" width="1" height="24.7" fill="#f03c3c"/>
<rect x="756.0" y="899.0" width="1" height="18.0" fill="#f03c3c"/>
<rect x="796.0" y="905.0" width="1" height="12.0" fill="#f03c3c"/>
<rect x="836.0" y="913.0" width="1" height="4.0" fill="#f03c3c"/>
<rect x="876.0" y="909.0" width="1" height="8.0" fill="#f03c3c"/>
<rect x="916.0" y="907.0" width="1" height="10.0" fill="#f03c3c"/>
<rect x="956.0" y="908.0" width="1" height="9.0" fill="#f03c3c"/>
<rect x="996.0" y="903.0" width="1" height="14.0" fill="#f03c3c"/>
<rect x="1075.0" y="917.0" width="1" height="5.3" fill="#f03c3c"/>
<rect x="1115.0" y="917.0" width="1" height="10.0" fill="#f03c3c"/>
<rect x="1155.0" y="917.0" width="1" height="17.0" fill="#f03c3c"/>
<rect x="1195.0" y="917.0" width="1" height="28.0" fill="#f03c3c"/>
<rect x="1235.0" y="917.0" width="1" height="38.7" fill="#f03c3c"/>
<rect x="1275.0" y="917.0" width="1" height="43.0" fill="#f03c3c"/>
<rect x="1315.0" y="917.0" width="1" height="42.0" fill="#f03c3c"/>
<rect x="1355.0" y="917.0" width="1" height="42.0" fill="#f03c3c"/>
<rect x="1395.0" y="917.0" width="1" height="44.7" fill="#f03c3c"/>
<rect x="1435.0" y="917.0" width="1" height="43.0" fill="#f03c3c"/>
<rect x="1475.0" y="917.0" width="1" height="41.0" fill="#f03c3c"/>
<rect x="1515.0" y="917.0" width="1" height="32.0" fill="#f03c3c"/>
<rect x="1555.0" y="917.0" width="1" height="21.3" fill="#f03c3c"/>
<rect x="1595.0" y="917.0" width="1" height="16.3" fill="#f03c3c"/>
<rect x="1635.0" y="917.0" width="1" height="9.7" fill="#f03c3c"/>
<polyline points="75.5,904.3 115.5,903.3 155.5,902.0 195.5,900.0 235.5,896.3 275.5,892.3 315.5,886.3 355.5,879.0 395.5,867.3 435.5,847.7 475.5,831.7 515.5,816.7 555.5,802.7 595.5,790.0 635.5,780.0 675.5,770.0 715.5,764.3 755.5,760.0 795.5,757.3 835.5,756.0 875.5,754.3 915.5,752.0 955.5,750.0 995.5,746.0 1035.5,746.0 1074.5,748.3 1114.5,750.3 1154.5,755.7 1194.5,762.7 1234.5,771.7 1274.5,783.3 1314.5,792.7 1354.5,803.3 1394.5,814.3 1434.5,826.0 1474.5,836.7 1514.5,844.0 1554.5,850.0 1594.5,854.3 1634.5,857.3" fill="none" stroke="#f25858" stroke-width="1"/>
<polyline points="75.5,900.3 115.5,898.3 155.5,898.3 195.5,895.3 235.5,882.3 275.5,875.3 315.5,861.0 355.5,849.3 395.5,819.3 435.5,773.3 475.5,768.0 515.5,760.0 555.5,745.3 595.5,740.0 635.5,736.0 675.5,733.3 715.5,740.0 755.5,742.3 795.5,746.7 835.5,752.3 875.5,746.3 915.5,743.3 955.5,741.0 995.5,733.3 1035.5,744.3 1074.5,754.3 1114.5,760.0 1154.5,772.3 1194.5,791.0 1234.5,811.7 1274.5,826.7 1314.5,835.7 1354.5,846.0 1394.5,860.7 1434.5,869.0 1474.5,878.3 1514.5,877.3 1554.5,872.3 1594.5,871.0 1634.5,867.3" fill="none" stroke="#5b5bf5" stroke-width="1"/>
<rect x="1545" y="808.5" width="140" height="121" rx="1.5" fill="none" stroke="#ff1f1f" stroke-width="3"/>
<line x1="61" y1="421.5" x2="1855" y2="421.5" stroke="#8497b3" stroke-width="1" stroke-dasharray="5,6"/>
<line x1="1475.5" y1="57" x2="1475.5" y2="976" stroke="#8497b3" stroke-width="1" stroke-dasharray="5,6"/>
</g>
<g id="axes">
<rect x="61" y="565" width="1850" height="1" fill="#8a92a0"/>
<rect x="61" y="719" width="1850" height="1" fill="#8a92a0"/>
<rect x="1855" y="57" width="1" height="920" fill="#8a92a0"/>
<rect x="61" y="976" width="1795" height="1" fill="#8a92a0"/>
<rect x="1856" y="78" width="3" height="1" fill="#8a92a0"/>
<text x="1862" y="82.8" font-size="12" fill="#858c99">300.00</text>
<rect x="1856" y="129" width="3" height="1" fill="#8a92a0"/>
<text x="1862" y="133.8" font-size="12" fill="#858c99">280.00</text>
<rect x="1856" y="181" width="3" height="1" fill="#8a92a0"/>
<text x="1862" y="185.8" font-size="12" fill="#858c99">260.00</text>
<rect x="1856" y="232" width="3" height="1" fill="#8a92a0"/>
<text x="1862" y="236.8" font-size="12" fill="#858c99">240.00</text>
<rect x="1856" y="283" width="3" height="1" fill="#8a92a0"/>
<text x="1862" y="287.8" font-size="12" fill="#858c99">220.00</text>
<rect x="1856" y="334" width="3" height="1" fill="#8a92a0"/>
<text x="1862" y="338.8" font-size="12" fill="#858c99">200.00</text>
<rect x="1856" y="385" width="3" height="1" fill="#8a92a0"/>
<text x="1862" y="389.8" font-size="12" fill="#858c99">180.00</text>
<rect x="1856" y="436" width="3" height="1" fill="#8a92a0"/>
<text x="1862" y="440.8" font-size="12" fill="#858c99">160.00</text>
<rect x="1856" y="488" width="3" height="1" fill="#8a92a0"/>
<text x="1862" y="492.8" font-size="12" fill="#858c99">140.00</text>
<rect x="1856" y="539" width="3" height="1" fill="#8a92a0"/>
<text x="1862" y="543.8" font-size="12" fill="#858c99">120.00</text>
<rect x="1856" y="577" width="3" height="1" fill="#8a92a0"/>
<text x="1862" y="581.8" font-size="12" fill="#858c99">2M</text>
<rect x="1856" y="610" width="3" height="1" fill="#8a92a0"/>
<text x="1862" y="614.8" font-size="12" fill="#858c99">1.5M</text>
<rect x="1856" y="644" width="3" height="1" fill="#8a92a0"/>
<text x="1862" y="648.8" font-size="12" fill="#858c99">1M</text>
<rect x="1856" y="677" width="3" height="1" fill="#8a92a0"/>
<text x="1862" y="681.8" font-size="12" fill="#858c99">500K</text>
<rect x="1856" y="710" width="3" height="1" fill="#8a92a0"/>
<text x="1862" y="714.8" font-size="12" fill="#858c99">0</text>
<rect x="1856" y="731" width="3" height="1" fill="#8a92a0"/>
<text x="1862" y="735.8" font-size="12" fill="#858c99">24.0000</text>
<rect x="1856" y="762" width="3" height="1" fill="#8a92a0"/>
<text x="1862" y="766.8" font-size="12" fill="#858c99">20.0000</text>
<rect x="1856" y="792" width="3" height="1" fill="#8a92a0"/>
<text x="1862" y="796.8" font-size="12" fill="#858c99">16.0000</text>
<rect x="1856" y="823" width="3" height="1" fill="#8a92a0"/>
<text x="1862" y="827.8" font-size="12" fill="#858c99">12.0000</text>
<rect x="1856" y="854" width="3" height="1" fill="#8a92a0"/>
<text x="1862" y="858.8" font-size="12" fill="#858c99">8.0000</text>
<rect x="1856" y="885" width="3" height="1" fill="#8a92a0"/>
<text x="1862" y="889.8" font-size="12" fill="#858c99">4.0000</text>
<rect x="1856" y="916" width="3" height="1" fill="#8a92a0"/>
<text x="1862" y="920.8" font-size="12" fill="#858c99">0.0000</text>
<rect x="1856" y="946" width="3" height="1" fill="#8a92a0"/>
<text x="1862" y="950.8" font-size="12" fill="#858c99">-4.0000</text>
<rect x="1855" y="164" width="49" height="16" fill="#13b786"/><rect x="1855" y="171" width="4" height="1" fill="#fff"/>
<text x="1861.8" y="176.6" font-size="12" font-weight="bold" fill="#fff" textLength="37.5">263.87</text>
<rect x="1855" y="414" width="49" height="16" fill="#555"/><rect x="1855" y="421" width="4" height="1" fill="#fff"/>
<text x="1861.8" y="426.6" font-size="12" font-weight="bold" fill="#fff" textLength="37.5">165.98</text>
<rect x="76" y="977" width="1" height="3" fill="#8a92a0"/>
<text x="76.5" y="991" font-size="12" fill="#858c99" text-anchor="middle">7</text>
<rect x="156" y="977" width="1" height="3" fill="#8a92a0"/>
<text x="156.5" y="991" font-size="12" fill="#858c99" text-anchor="middle">9</text>
<rect x="236" y="977" width="1" height="3" fill="#8a92a0"/>
<text x="236.5" y="991" font-size="12" fill="#858c99" text-anchor="middle">11</text>
<rect x="316" y="977" width="1" height="3" fill="#8a92a0"/>
<text x="316.5" y="991" font-size="12" fill="#858c99" text-anchor="middle">13</text>
<rect x="396" y="977" width="1" height="3" fill="#8a92a0"/>
<text x="396.5" y="991" font-size="12" fill="#858c99" text-anchor="middle">15</text>
<rect x="476" y="977" width="1" height="3" fill="#8a92a0"/>
<text x="476.5" y="991" font-size="12" fill="#858c99" text-anchor="middle">17</text>
<rect x="556" y="977" width="1" height="3" fill="#8a92a0"/>
<text x="556.5" y="991" font-size="12" fill="#858c99" text-anchor="middle">19</text>
<rect x="636" y="977" width="1" height="3" fill="#8a92a0"/>
<text x="636.5" y="991" font-size="12" fill="#858c99" text-anchor="middle">21</text>
<rect x="716" y="977" width="1" height="3" fill="#8a92a0"/>
<text x="716.5" y="991" font-size="12" fill="#858c99" text-anchor="middle">23</text>
<rect x="796" y="977" width="1" height="3" fill="#8a92a0"/>
<text x="796.5" y="991" font-size="12" fill="#858c99" text-anchor="middle">25</text>
<rect x="876" y="977" width="1" height="3" fill="#8a92a0"/>
<text x="876.5" y="991" font-size="12" fill="#858c99" text-anchor="middle">27</text>
<rect x="956" y="977" width="1" height="3" fill="#8a92a0"/>
<text x="956.5" y="991" font-size="12" fill="#858c99" text-anchor="middle">29</text>
<rect x="1075" y="977" width="1" height="3" fill="#8a92a0"/>
<text x="1075.5" y="991" font-size="12" fill="#858c99" text-anchor="middle" font-weight="bold">6月</text>
<rect x="1155" y="977" width="1" height="3" fill="#8a92a0"/>
<text x="1155.5" y="991" font-size="12" fill="#858c99" text-anchor="middle">3</text>
<rect x="1235" y="977" width="1" height="3" fill="#8a92a0"/>
<text x="1235.5" y="991" font-size="12" fill="#858c99" text-anchor="middle">5</text>
<rect x="1315" y="977" width="1" height="3" fill="#8a92a0"/>
<text x="1315.5" y="991" font-size="12" fill="#858c99" text-anchor="middle">7</text>
<rect x="1395" y="977" width="1" height="3" fill="#8a92a0"/>
<text x="1395.5" y="991" font-size="12" fill="#858c99" text-anchor="middle">9</text>
<rect x="1555" y="977" width="1" height="3" fill="#8a92a0"/>
<text x="1555.5" y="991" font-size="12" fill="#858c99" text-anchor="middle">13</text>
<rect x="1635" y="977" width="1" height="3" fill="#8a92a0"/>
<text x="1635.5" y="991" font-size="12" fill="#858c99" text-anchor="middle">15</text>
<rect x="1715" y="977" width="1" height="3" fill="#8a92a0"/>
<text x="1715.5" y="991" font-size="12" fill="#858c99" text-anchor="middle">17</text>
<rect x="1795" y="977" width="1" height="3" fill="#8a92a0"/>
<text x="1795.5" y="991" font-size="12" fill="#858c99" text-anchor="middle">19</text>
<rect x="1439" y="976" width="72" height="19" fill="#555"/><rect x="1475" y="976" width="1" height="4" fill="#fff"/>
<text x="1442.8" y="990.8" font-size="12" font-weight="bold" fill="#fff" textLength="62">2019-06-11</text>
</g>
<g id="legend">
<rect x="67.5" y="68.5" width="12" height="12" rx="1.5" fill="none" stroke="#6b6b6b" stroke-width="1"/>
<rect x="70" y="74" width="7" height="1.2" fill="#6b6b6b"/>
<text x="87.5" y="80.8" font-size="16" fill="#6f7a8c" stroke="#6f7a8c" stroke-width="0.3" textLength="108.5">ETH/USDT, 1D</text>
<rect x="209" y="67" width="13.8" height="13.8" fill="#dfe4eb"/><circle cx="215.90" cy="73.90" r="4.1" fill="none" stroke="#fff" stroke-width="2.4" stroke-dasharray="1.7,1.52"/><circle cx="215.90" cy="73.90" r="3.4" fill="#fff"/><circle cx="215.90" cy="73.90" r="1.5" fill="#dfe4eb"/>
<text x="232.8" y="80" font-size="13.5" fill="#6f7480">开</text>
<text x="247.4" y="79.5" font-size="11" fill="#6f7480">=</text>
<text x="257.2" y="79.8" font-size="14" fill="#f24848" textLength="44">242.40</text>
<text x="313.4" y="80" font-size="13.5" fill="#6f7480">高</text>
<text x="328.0" y="79.5" font-size="11" fill="#6f7480">=</text>
<text x="337.4" y="79.8" font-size="14" fill="#f24848" textLength="44">247.93</text>
<text x="393.1" y="80" font-size="13.5" fill="#6f7480">低</text>
<text x="407.70000000000005" y="79.5" font-size="11" fill="#6f7480">=</text>
<text x="416.6" y="79.8" font-size="14" fill="#f24848" textLength="44">237.53</text>
<text x="472.8" y="80" font-size="13.5" fill="#6f7480">收</text>
<text x="487.40000000000003" y="79.5" font-size="11" fill="#6f7480">=</text>
<text x="496.3" y="79.8" font-size="14" fill="#f24848" textLength="44">239.16</text>
<text x="66" y="99.1" font-size="12" fill="#7c8291">MA (5, close, 0)</text>
<rect x="163" y="87.1" width="13.8" height="13.8" fill="#dfe4eb"/><circle cx="169.90" cy="94.00" r="4.1" fill="none" stroke="#fff" stroke-width="2.4" stroke-dasharray="1.7,1.52"/><circle cx="169.90" cy="94.00" r="3.4" fill="#fff"/><circle cx="169.90" cy="94.00" r="1.5" fill="#dfe4eb"/>
<rect x="182.2" y="87.1" width="13.8" height="13.8" fill="#dfe4eb"/><path d="M184.5 89.39999999999999L193.7 98.6M193.7 89.39999999999999L184.5 98.6" stroke="#fff" stroke-width="1.4"/>
<text x="205.3" y="99.1" font-size="12" fill="#a25fd1" textLength="33.8">242.36</text>
<text x="66" y="118.9" font-size="12" fill="#7c8291">MA (10, close, 0)</text>
<rect x="169" y="106.9" width="13.8" height="13.8" fill="#dfe4eb"/><circle cx="175.90" cy="113.80" r="4.1" fill="none" stroke="#fff" stroke-width="2.4" stroke-dasharray="1.7,1.52"/><circle cx="175.90" cy="113.80" r="3.4" fill="#fff"/><circle cx="175.90" cy="113.80" r="1.5" fill="#dfe4eb"/>
<rect x="188" y="106.9" width="13.8" height="13.8" fill="#dfe4eb"/><path d="M190.3 109.2L199.5 118.4M199.5 109.2L190.3 118.4" stroke="#fff" stroke-width="1.4"/>
<text x="211" y="118.9" font-size="12" fill="#6f9fdc" textLength="33.8">247.00</text>
<text x="66" y="138.7" font-size="12" fill="#7c8291">MA (30, close, 0)</text>
<rect x="169" y="126.69999999999999" width="13.8" height="13.8" fill="#dfe4eb"/><circle cx="175.90" cy="133.60" r="4.1" fill="none" stroke="#fff" stroke-width="2.4" stroke-dasharray="1.7,1.52"/><circle cx="175.90" cy="133.60" r="3.4" fill="#fff"/><circle cx="175.90" cy="133.60" r="1.5" fill="#dfe4eb"/>
<rect x="188" y="126.69999999999999" width="13.8" height="13.8" fill="#dfe4eb"/><path d="M190.3 129.0L199.5 138.2M199.5 129.0L190.3 138.2" stroke="#fff" stroke-width="1.4"/>
<text x="211" y="138.7" font-size="12" fill="#4caf50" textLength="33.8">249.38</text>
<text x="66" y="158.5" font-size="12" fill="#7c8291">MA (60, close, 0)</text>
<rect x="169" y="146.5" width="13.8" height="13.8" fill="#dfe4eb"/><circle cx="175.90" cy="153.40" r="4.1" fill="none" stroke="#fff" stroke-width="2.4" stroke-dasharray="1.7,1.52"/><circle cx="175.90" cy="153.40" r="3.4" fill="#fff"/><circle cx="175.90" cy="153.40" r="1.5" fill="#dfe4eb"/>
<rect x="188" y="146.5" width="13.8" height="13.8" fill="#dfe4eb"/><path d="M190.3 148.8L199.5 158.0M199.5 148.8L190.3 158.0" stroke="#fff" stroke-width="1.4"/>
<text x="211" y="158.5" font-size="12" fill="#b23aa6" textLength="33.8">208.13</text>
<text x="66" y="178.6" font-size="12" fill="#7c8291">BB (20, 2)</text>
<rect x="131" y="166.6" width="13.8" height="13.8" fill="#dfe4eb"/><circle cx="137.90" cy="173.50" r="4.1" fill="none" stroke="#fff" stroke-width="2.4" stroke-dasharray="1.7,1.52"/><circle cx="137.90" cy="173.50" r="3.4" fill="#fff"/><circle cx="137.90" cy="173.50" r="1.5" fill="#dfe4eb"/>
<rect x="150.3" y="166.6" width="13.8" height="13.8" fill="#dfe4eb"/><path d="M152.60000000000002 168.9L161.8 178.1M161.8 168.9L152.60000000000002 178.1" stroke="#fff" stroke-width="1.4"/>
<text x="173.3" y="178.6" font-size="12" fill="#ff0000" textLength="45.3">254.2345</text>
<text x="229.5" y="178.6" font-size="12" fill="#0000ff" textLength="45.8">281.0718</text>
<text x="285.3" y="178.6" font-size="12" fill="#0000ff" textLength="45">227.3972</text>
<text x="66.3" y="585" font-size="12" fill="#7c8291">Volume (20)</text>
<rect x="144" y="574" width="13.8" height="13.8" fill="#dfe4eb"/><circle cx="150.90" cy="580.90" r="4.1" fill="none" stroke="#fff" stroke-width="2.4" stroke-dasharray="1.7,1.52"/><circle cx="150.90" cy="580.90" r="3.4" fill="#fff"/><circle cx="150.90" cy="580.90" r="1.5" fill="#dfe4eb"/>
<rect x="163" y="574" width="13.8" height="13.8" fill="#dfe4eb"/><path d="M165.3 576.3L174.5 585.5M174.5 576.3L165.3 585.5" stroke="#fff" stroke-width="1.4"/>
<text x="186.3" y="585" font-size="12" fill="#f23c3c" textLength="46.7">338.784K</text>
<text x="65.7" y="739.5" font-size="12" fill="#7c8291" textLength="124.3">MACD (12, 26, close, 9)</text>
<rect x="203" y="728" width="13.8" height="13.8" fill="#dfe4eb"/><circle cx="209.90" cy="734.90" r="4.1" fill="none" stroke="#fff" stroke-width="2.4" stroke-dasharray="1.7,1.52"/><circle cx="209.90" cy="734.90" r="3.4" fill="#fff"/><circle cx="209.90" cy="734.90" r="1.5" fill="#dfe4eb"/>
<rect x="222" y="728" width="13.8" height="13.8" fill="#dfe4eb"/><path d="M224.3 730.3L233.5 739.5M233.5 730.3L224.3 739.5" stroke="#fff" stroke-width="1.4"/>
<text x="245" y="739.5" font-size="12" fill="#ff0000" textLength="37.3">-5.4151</text>
<text x="293.3" y="739.5" font-size="12" fill="#0000ff" textLength="33.4">4.8903</text>
<text x="337.7" y="739.5" font-size="12" fill="#ff0000" textLength="39">10.3053</text>
<rect x="90" y="527" width="163" height="18" fill="#fff"/>
<circle cx="90.4" cy="535" r="16.3" fill="#fff" stroke="#e8e8e8" stroke-width="1.3"/>
<path d="M80.2 540V534.5C80.2 532.5 82.5 531.5 84.4 532C84.6 527.5 91.5 526.5 93.5 531C95 530 97.3 530.3 98.2 531.6C101 532.6 102.5 537 101 539.6C100.5 540.6 99.6 541 98.5 541H82C80.8 541 80.2 540.6 80.2 540Z" fill="#37a2ec"/>
<polyline points="80.3,539.3 87.7,533.2 93,539 98.8,532.3" fill="none" stroke="#fff" stroke-width="1.3"/>
<text x="117.3" y="541" font-size="14" fill="#48a2e4">Chart by TradingView</text>
<rect x="1818" y="78" width="13.5" height="13.5" fill="#d8d8d8"/><path d="M1824.7 81v7M1822 85.5l2.7 3l2.7-3" stroke="#fff" stroke-width="1.6" fill="none"/>
<rect x="1835.3" y="78" width="13.5" height="13.5" fill="#d8d8d8"/><path d="M1842 80.5v8.5M1839.5 83l2.5-2.5l2.5 2.5M1839.5 86.5l2.5 2.5l2.5-2.5" stroke="#fff" stroke-width="1.4" fill="none"/>
<rect x="51.5" y="910" width="8" height="25" rx="4" fill="#eef1f5"/><path d="M57 919.5l-2.5 3l2.5 3" stroke="#8a9aae" stroke-width="1.4" fill="none"/>
</g>
<g id="frame">
<rect x="0" y="0" width="54" height="23.5" fill="#3a98dc"/>
<rect x="0" y="23" width="1920" height="2" fill="#1e86e0"/>
<circle cx="15.9" cy="11" r="9.3" fill="none" stroke="#fff" stroke-width="1.5"/>
<path d="M21.2 11.2H11.100000000000001M15.3 6.8L10.9 11.2L15.3 15.6" stroke="#fff" stroke-width="1.5" fill="none"/>
<circle cx="39.8" cy="11" r="9.3" fill="none" stroke="#fff" stroke-width="1.5"/>
<path d="M34.5 11.2H44.599999999999994M40.4 6.8L44.8 11.2L40.4 15.6" stroke="#fff" stroke-width="1.5" fill="none"/>
<path d="M56 11H75.5M67.5 3.3L75.5 11L67.5 18.7" stroke="#2a8fe8" stroke-width="1.7" fill="none"/>
<rect x="1839" y="0" width="81" height="23.5" fill="#3a98dc"/>
<path d="M1846 11.2L1855.2 2.3L1864.4 11.2M1848.3 9.3V19.3H1853.3V13.5H1857.2V19.3H1862.2V9.3" stroke="#fff" stroke-width="1.5" fill="none"/>
<text x="1877" y="16.2" font-size="13.5" fill="#000">切换</text>
<rect x="0" y="0" width="2" height="1002" fill="#1976d2"/>
<rect x="1918" y="0" width="2" height="1002" fill="#1976d2"/>
<rect x="2" y="48" width="1916" height="1" fill="#e3e8ef"/>
<rect x="333.3" y="26" width="43.4" height="22" fill="#eef2f8"/>
<text x="10" y="41.6" font-size="12.6" fill="#8f98a6">Time</text>
<text x="55" y="41.6" font-size="12.6" fill="#8f98a6">1min</text>
<text x="99" y="41.6" font-size="12.6" fill="#8f98a6">5min</text>
<text x="143.3" y="41.6" font-size="12.6" fill="#8f98a6">15min</text>
<text x="194.3" y="41.6" font-size="12.6" fill="#8f98a6">30min</text>
<text x="245.7" y="41.6" font-size="12.6" fill="#8f98a6">1hour</text>
<text x="293.3" y="41.6" font-size="12.6" fill="#8f98a6">4hour</text>
<text x="341.7" y="41.6" font-size="12.6" fill="#3b7ddd">1day</text>
<text x="385" y="41.6" font-size="12.6" fill="#8f98a6">5day</text>
<text x="430" y="41.6" font-size="12.6" fill="#8f98a6">1week</text>
<text x="483.3" y="41.6" font-size="12.6" fill="#8f98a6">1mon</text>
<rect x="523.5" y="26" width="1" height="22" fill="#e3e7ee"/>
<rect x="555.4" y="26" width="1" height="22" fill="#e3e7ee"/>
<rect x="587.2" y="26" width="1" height="22" fill="#e3e7ee"/>
<rect x="618.4" y="26" width="1" height="22" fill="#e3e7ee"/>
<rect x="532.5" y="30.5" width="15" height="13" fill="none" stroke="#8fa2b7" stroke-width="1.3"/>
<path d="M534.5 42L538.5 35.5L541 39L545.5 32.5" stroke="#8fa2b7" stroke-width="1.3" fill="none"/>
<path d="M571.3 29.8L578.3 33.6V41.2L571.3 45L564.3 41.2V33.6Z" stroke="#8fa2b7" stroke-width="1.3" fill="none"/>
<circle cx="571.3" cy="37.4" r="2.6" stroke="#8fa2b7" stroke-width="1.3" fill="none"/>
<path d="M596.5 34V30.5H600M606.5 30.5H610V34M610 40.5V44H606.5M600 44H596.5V40.5" stroke="#8fa2b7" stroke-width="1.4" fill="none"/>
<circle cx="603.3" cy="37.2" r="2.3" stroke="#8fa2b7" stroke-width="1.3" fill="none"/>
<rect x="1770.8" y="27.2" width="52" height="17.5" rx="2" fill="#3b80e0"/>
<text x="1796.8" y="40.5" font-size="13" font-weight="bold" fill="#fff" text-anchor="middle">行情图</text>
<rect x="1831.2" y="27.2" width="52.4" height="17.5" rx="2" fill="#e4e9f1"/>
<text x="1857.4" y="40.5" font-size="13" font-weight="bold" fill="#9aa4b1" text-anchor="middle">深度图</text>
<path d="M1902.6 27.5C1899 33 1896 36 1896.3 41C1896.7 44.5 1899 46.5 1901.5 46.6C1899.8 44 1900.2 41 1902.6 38.8C1902 42 1903.5 44.5 1905.4 45.6C1908.5 44 1909.6 41 1908.5 37.5C1907.6 40.2 1906 41 1905 40C1903 36.5 1903.2 31.5 1902.6 27.5Z" fill="#dedfe2"/>
<rect x="13" y="58" width="34" height="33.7" rx="3.5" fill="#eceff3"/>
<path d="M30.2 64.3V70.5M30.2 80V86.6M19.2 75.3H27M33.8 75.3H41.8" stroke="#8fa2b7" stroke-width="1.1" fill="none"/>
<path d="M23.8 119L33.9 108.9M29.5 124.5L33.2 120.8M36 118L41 113" stroke="#8fa2b7" stroke-width="1.1" fill="none"/>
<circle cx="35.4" cy="107.4" r="2" stroke="#8fa2b7" stroke-width="1.1" fill="none"/><circle cx="22.3" cy="120.5" r="2" stroke="#8fa2b7" stroke-width="1.1" fill="none"/><circle cx="34.6" cy="119.4" r="2" stroke="#8fa2b7" stroke-width="1.1" fill="none"/>
<path d="M29.8 144.5L23 151M35.4 149.6L23 162.2M23 154L31 162.2M34 162.2L41 155.3" stroke="#8fa2b7" stroke-width="1.1" fill="none"/>
<circle cx="21.5" cy="152.4" r="2" stroke="#8fa2b7" stroke-width="1.1" fill="none"/><circle cx="21.5" cy="163.6" r="2" stroke="#8fa2b7" stroke-width="1.1" fill="none"/><circle cx="32.5" cy="163.6" r="2" stroke="#8fa2b7" stroke-width="1.1" fill="none"/>
<path d="M18.6 203.6C20 197 25 192.5 29.5 193.3C33.5 194 35 199.5 31 202.5C28 204 22 203.8 18.6 203.6Z M32.8 188.2C32.5 191 33.5 193 36 192.3L43.3 187.3" stroke="#8fa2b7" stroke-width="1.1" fill="none"/>
<path d="M24.2 226.5H37M30.6 226.5V243.8M28 243.8H33.2" stroke="#8fa2b7" stroke-width="1.1" fill="none"/>
<path d="M21.3 283.7L24.5 266.4L28.5 273.6L21.3 283.7M28.5 273.6L36.5 267.2L39.3 280.5L28.5 273.6" stroke="#8fa2b7" stroke-width="1.1" fill="none"/>
<circle cx="24.5" cy="266.4" r="2" fill="#fff" stroke="#8fa2b7" stroke-width="1.1"/>
<circle cx="36.5" cy="267.2" r="2" fill="#fff" stroke="#8fa2b7" stroke-width="1.1"/>
<circle cx="28.5" cy="273.6" r="2" fill="#fff" stroke="#8fa2b7" stroke-width="1.1"/>
<circle cx="21.3" cy="283.7" r="2" fill="#fff" stroke="#8fa2b7" stroke-width="1.1"/>
<circle cx="39.3" cy="280.5" r="2" fill="#fff" stroke="#8fa2b7" stroke-width="1.1"/>
<path d="M22.4 306.5H41M22.4 317.2H38.3M22.4 324.4H41M30.6 309V322.3M28.6 311L30.6 309L32.6 311M28.6 320.3L30.6 322.3L32.6 320.3" stroke="#8fa2b7" stroke-width="1.1" fill="none"/>
<circle cx="20.2" cy="306.5" r="2" stroke="#8fa2b7" stroke-width="1.1" fill="none"/>
<circle cx="20.2" cy="317.2" r="2" stroke="#8fa2b7" stroke-width="1.1" fill="none"/>
<circle cx="40.5" cy="317.2" r="2" stroke="#8fa2b7" stroke-width="1.1" fill="none"/>
<circle cx="20.2" cy="324.4" r="2" stroke="#8fa2b7" stroke-width="1.1" fill="none"/>
<path d="M36 355.6H26M30.5 349.5L24.4 355.6L30.5 361.7" stroke="#8fa4b8" stroke-width="3.6" fill="none" stroke-linecap="round" stroke-linejoin="round"/>
<rect x="3" y="380.6" width="50" height="1" fill="#edf0f3"/>
<rect x="3" y="470.6" width="50" height="1" fill="#edf0f3"/>
<rect x="3" y="635.4" width="50" height="1" fill="#edf0f3"/>
<g transform="translate(28.8 407) rotate(-45)"><rect x="-13" y="-3.6" width="26" height="7.2" stroke="#8fa2b7" stroke-width="1.1" fill="none"/><path d="M-9 -3.6v2.6M-5 -3.6v2.6M-1 -3.6v2.6M3 -3.6v2.6M7 -3.6v2.6" stroke="#8fa2b7" stroke-width="1.1" fill="none"/></g>
<circle cx="27.4" cy="442.6" r="8" stroke="#8fa2b7" stroke-width="1.1" fill="none"/><path d="M23.4 442.6H31.4M27.4 438.6V446.6M33.2 448.4L36.5 452" stroke="#8fa2b7" stroke-width="1.1" fill="none"/>
<path d="M21.5 504.5V494C21.5 484 36.5 484 36.5 494V504.5H32.5V494C32.5 489.5 25.5 489.5 25.5 494V504.5Z M21.5 500.5H25.5M32.5 500.5H36.5" stroke="#8fa2b7" stroke-width="1.1" fill="none"/>
<path d="M18.5 538.5L19.5 542.8L23.8 541.8L33.8 531.8L29.5 527.5Z M28 529L32.3 533.3" stroke="#8fa2b7" stroke-width="1.1" fill="none"/>
<rect x="30.5" y="537.5" width="8" height="6.3" stroke="#8fa2b7" stroke-width="1.1" fill="none"/><path d="M32.2 537.5V535C32.2 532 36.7 532 36.7 535" stroke="#8fa2b7" stroke-width="1.1" fill="none"/>
<rect x="21.5" y="570.5" width="15" height="11" rx="1" stroke="#8fa2b7" stroke-width="1.1" fill="none"/><path d="M24.5 570.5V566C24.5 560.5 33.5 560.5 33.5 566" stroke="#8fa2b7" stroke-width="1.1" fill="none"/><rect x="28.4" y="574.5" width="1.3" height="3" fill="#8fa2b7"/>
<path d="M19 610C24 602.5 34 602.5 39 610C34 617.5 24 617.5 19 610Z" stroke="#8fa2b7" stroke-width="1.1" fill="none"/><circle cx="29" cy="610" r="2.9" fill="#8fa2b7"/>
<path d="M29 651L38.3 657.5L29 664L19.7 657.5Z M19.7 661.5L29 668L38.3 661.5M19.7 665.5L29 672L38.3 665.5" stroke="#8fa2b7" stroke-width="1.1" fill="none"/>
<path d="M22.3 692.5H35.8M26 692.5V690.5H32V692.5M23.5 692.5L24.2 709.4H33.9L34.6 692.5M27 695.5V706.5M29 695.5V706.5M31 695.5V706.5" stroke="#8fa2b7" stroke-width="1.1" fill="none"/>
</g>
</svg>
</body></html>
